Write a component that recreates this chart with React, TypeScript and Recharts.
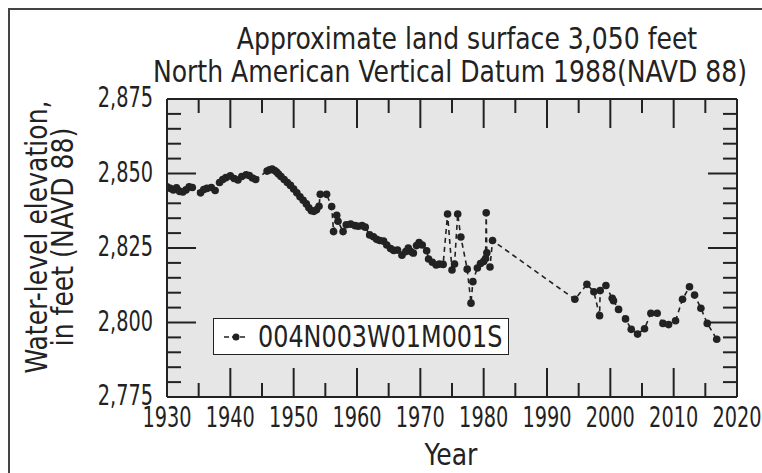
import { LineChart, Line, XAxis, YAxis, Legend } from "recharts";

const years = [
  1930.0, 1930.5, 1931.0, 1931.5, 1932.0, 1932.5, 1933.0, 1933.5, 1934.0, 1935.3,
  1935.8, 1936.3, 1937.0, 1937.6, 1938.3, 1938.8, 1939.3, 1940.0, 1940.6, 1941.2,
  1941.8, 1942.5, 1943.0, 1943.5, 1944.0, 1945.8, 1946.2, 1946.6, 1947.0, 1947.3,
  1947.6, 1948.0, 1948.5, 1949.0, 1949.5, 1950.0, 1950.5, 1951.0, 1951.5, 1952.0,
  1952.4, 1952.8, 1953.2, 1953.6, 1954.0, 1954.2, 1955.2, 1956.0, 1956.3, 1956.8,
  1957.0, 1957.8, 1958.3, 1959.0, 1959.7, 1960.2, 1960.8, 1961.3, 1962.0, 1962.6,
  1963.1, 1963.6, 1964.2, 1964.7, 1965.3, 1965.8, 1966.4, 1967.1, 1967.7, 1968.1,
  1968.5, 1968.9, 1969.4, 1969.8, 1970.3, 1971.0, 1971.3, 1971.9, 1972.5, 1973.0,
  1973.6, 1974.3, 1975.0, 1975.4, 1975.9, 1976.4, 1977.4, 1978.0, 1978.3, 1979.0,
  1979.5, 1980.0, 1980.3, 1980.4, 1980.5, 1981.0, 1981.4, 1994.4, 1996.3, 1997.4,
  1998.3, 1998.4, 1999.3, 2000.3, 2000.5, 2001.3, 2002.4, 2003.3, 2004.3, 2005.4,
  2006.4, 2007.4, 2008.3, 2009.2, 2010.3, 2011.4, 2012.5, 2013.3, 2014.3, 2015.3,
  2016.8,
];

const levels = [
  2845.5, 2845.0, 2844.5, 2845.2, 2844.0, 2843.8, 2844.5, 2845.5, 2845.3, 2843.5,
  2844.6, 2845.0, 2845.3, 2844.3, 2847.0, 2848.0, 2848.6, 2849.2, 2848.3, 2847.8,
  2849.0, 2849.6, 2849.3, 2848.5, 2848.0, 2850.8, 2851.2, 2851.5, 2851.0, 2850.5,
  2849.8, 2849.0, 2848.0, 2847.0, 2846.0, 2844.8, 2843.5, 2842.2, 2841.0, 2839.8,
  2838.5, 2837.5, 2837.3, 2837.8, 2839.0, 2843.0, 2843.0, 2838.9, 2830.5, 2836.0,
  2834.0, 2830.5, 2832.8, 2833.0, 2832.5, 2832.3, 2832.5, 2832.0, 2829.4, 2828.8,
  2827.9, 2827.5, 2827.3, 2826.0, 2824.8, 2824.2, 2824.3, 2822.6, 2823.8, 2825.0,
  2823.8, 2823.3, 2825.8, 2826.8, 2826.0, 2824.1, 2821.3, 2820.2, 2819.3, 2819.6,
  2819.5, 2836.4, 2817.6, 2819.6, 2836.4, 2828.7, 2817.9, 2806.5, 2813.7, 2818.3,
  2819.8, 2820.5, 2821.5, 2836.8, 2823.4, 2818.6, 2827.5, 2807.8, 2812.8, 2810.3,
  2802.3, 2810.7, 2812.4, 2808.1, 2807.3, 2804.4, 2801.2, 2797.7, 2796.1, 2797.9,
  2803.1, 2803.1, 2799.7, 2799.3, 2800.6, 2807.8, 2812.0, 2809.2, 2804.8, 2799.7,
  2794.4,
];

const yearTicks = [1930, 1935, 1940, 1945, 1950, 1955, 1960, 1965, 1970, 1975, 1980, 1985, 1990, 1995, 2000, 2005, 2010, 2015, 2020];
const levelTicks = [2775, 2780, 2785, 2790, 2795, 2800, 2805, 2810, 2815, 2820, 2825, 2830, 2835, 2840, 2845, 2850, 2855, 2860, 2865, 2870, 2875];

const seriesName = "004N003W01M001S";

const data = years.map((year, i) => ({ year, level: levels[i] }));

const FONT = '"Liberation Sans Narrow", "DejaVu Sans Condensed", "Roboto", sans-serif';
const INK = "#222";

function XTick(props: any) {
  const { x, y, payload, side } = props;
  const major = payload.value % 10 === 0;
  const len = major ? 29 : 14;
  const dir = side === "bottom" ? -1 : 1;
  return (
    <g>
      <line x1={x} x2={x} y1={y} y2={y + dir * len} stroke={INK} strokeWidth={2} />
      {side === "bottom" && major && (
        <text
          transform={`translate(${x},${y + 30}) scale(0.74,1)`}
          textAnchor="middle"
          fontFamily={FONT}
          fontSize={29}
          fill={INK}
        >
          {payload.value}
        </text>
      )}
    </g>
  );
}

function YTick(props: any) {
  const { x, y, payload, side } = props;
  const major = payload.value % 25 === 0;
  const len = major ? 29 : 14;
  const dir = side === "left" ? 1 : -1;
  return (
    <g>
      <line x1={x} x2={x + dir * len} y1={y} y2={y} stroke={INK} strokeWidth={2} />
      {side === "left" && major && (
        <text
          transform={`translate(${x - 14},${y + 8}) scale(0.74,1)`}
          textAnchor="end"
          fontFamily={FONT}
          fontSize={29}
          fill={INK}
        >
          {payload.value.toLocaleString("en-US")}
        </text>
      )}
    </g>
  );
}

function LegendBox(props: any) {
  const name = props.payload && props.payload[0] ? props.payload[0].value : seriesName;
  return (
    <div
      style={{
        border: `1.5px solid ${INK}`,
        background: "#fff",
        height: 37,
        boxSizing: "border-box",
        display: "flex",
        alignItems: "center",
        overflow: "hidden",
        fontFamily: FONT,
        fontSize: 30,
        color: INK,
      }}
    >
      <svg width={36} height={20} style={{ marginLeft: 8, flexShrink: 0 }}>
        <line x1={2} x2={26} y1={10} y2={10} stroke={INK} strokeWidth={1.5} strokeDasharray="5 3" />
        <circle cx={14} cy={10} r={3.5} fill={INK} />
      </svg>
      <span
        style={{
          display: "inline-block",
          whiteSpace: "nowrap",
          flexShrink: 0,
          transform: "scale(0.885,1)",
          transformOrigin: "left center",
        }}
      >
        {name}
      </span>
    </div>
  );
}

const titleStyle = {
  position: "absolute" as const,
  left: 0,
  textAlign: "center" as const,
  fontFamily: FONT,
  fontSize: 30,
  color: INK,
  lineHeight: "32px",
  transform: "scale(0.93,1)",
};

export default function App() {
  return (
    <div style={{ position: "absolute", left: 0, top: 0, width: 762, height: 473, background: "#fff", overflow: "hidden" }}>
      <div
        style={{
          position: "absolute",
          left: 8,
          top: 8,
          width: 800,
          height: 500,
          borderLeft: "2.5px solid #444",
          borderTop: "2.5px solid #444",
        }}
      />
      {/* plot background, under the svg */}
      <div style={{ position: "absolute", left: 167, top: 99, width: 570, height: 298, background: "#e6e6e6" }} />
      <div style={{ ...titleStyle, top: 23, width: 934 }}>Approximate land surface 3,050 feet</div>
      <div style={{ ...titleStyle, top: 56, width: 900 }}>North American Vertical Datum 1988(NAVD 88)</div>
      <div style={{ position: "absolute", left: 50, top: 241, width: 0, height: 0 }}>
        <div
          style={{
            position: "absolute",
            left: -200,
            top: -30,
            width: 400,
            textAlign: "center",
            transform: "rotate(-90deg) scale(0.93,1)",
            fontFamily: FONT,
            fontSize: 30,
            color: INK,
            lineHeight: "26px",
          }}
        >
          Water-level elevation,
          <br />
          in feet (NAVD 88)
        </div>
      </div>
      <div style={{ ...titleStyle, top: 439, width: 902 }}>Year</div>
      <div style={{ position: "absolute", left: 0, top: 0 }}>
        <LineChart width={762} height={473} data={data} margin={{ top: 98, right: 24, bottom: 75, left: 166 }}>
          <XAxis
            xAxisId="b"
            dataKey="year"
            type="number"
            domain={[1930, 2020]}
            ticks={yearTicks}
            interval={0}
            height={1}
            tickSize={0}
            tickMargin={0}
            tickLine={false}
            axisLine={{ stroke: INK, strokeWidth: 2 }}
            tick={<XTick side="bottom" />}
            allowDataOverflow
          />
          <XAxis
            xAxisId="t"
            orientation="top"
            dataKey="year"
            type="number"
            domain={[1930, 2020]}
            ticks={yearTicks}
            interval={0}
            height={1}
            tickSize={0}
            tickMargin={0}
            tickLine={false}
            axisLine={{ stroke: INK, strokeWidth: 2 }}
            tick={<XTick side="top" />}
            allowDataOverflow
          />
          <YAxis
            yAxisId="l"
            type="number"
            domain={[2775, 2875]}
            ticks={levelTicks}
            interval={0}
            width={1}
            tickSize={0}
            tickMargin={0}
            tickLine={false}
            axisLine={{ stroke: INK, strokeWidth: 2 }}
            tick={<YTick side="left" />}
            allowDataOverflow
          />
          <YAxis
            yAxisId="r"
            orientation="right"
            type="number"
            domain={[2775, 2875]}
            ticks={levelTicks}
            interval={0}
            width={1}
            tickSize={0}
            tickMargin={0}
            tickLine={false}
            axisLine={{ stroke: INK, strokeWidth: 2 }}
            tick={<YTick side="right" />}
            allowDataOverflow
          />
          <Legend
            layout="horizontal"
            verticalAlign="middle"
            align="center"
            wrapperStyle={{ left: 213, top: 318, width: 296, height: 37 }}
            content={<LegendBox />}
          />
          <Line
            xAxisId="b"
            yAxisId="l"
            name={seriesName}
            dataKey="level"
            type="linear"
            stroke={INK}
            strokeWidth={1.6}
            strokeDasharray="5 4"
            dot={{ r: 3.8, fill: INK, stroke: "none" }}
            isAnimationActive={false}
          />
        </LineChart>
      </div>
    </div>
  );
}
